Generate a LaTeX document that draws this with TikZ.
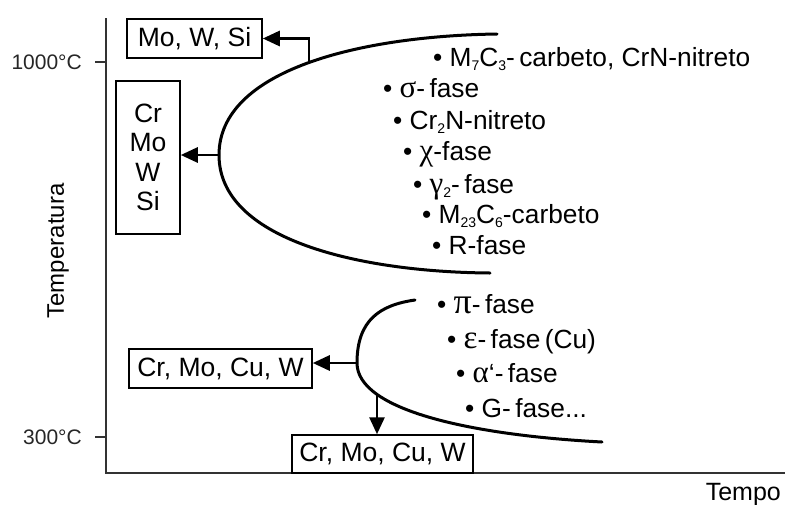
\documentclass[tikz,border=0pt]{standalone}
\usepackage{fontspec}
\setmainfont{Liberation Sans}
\newfontfamily\gr{Liberation Serif}
\usetikzlibrary{arrows.meta}
\newcommand{\sbs}[1]{\raisebox{-0.3ex}{\fontsize{14}{15}\selectfont #1}}
\newcommand{\gk}[1]{{\gr\fontsize{31}{32}\selectfont #1}}
\begin{document}
\begin{tikzpicture}[x=1pt,y=-1pt,
  axis/.style={line width=1.6pt,draw=black!80},
  curve/.style={line width=3pt,line cap=round},
  arr/.style={line width=2.8pt,-{Triangle[length=17pt,width=15pt]}},
  box/.style={draw,line width=1.5pt,inner sep=0pt,font=\fontsize{26.5}{30}\selectfont},
  item/.style={anchor=base west,inner sep=0pt,font=\fontsize{26.3}{28}\selectfont},
  tick/.style={anchor=east,inner sep=0pt,font=\fontsize{21}{24}\selectfont,text=black!85}]
\useasboundingbox (0,0) rectangle (785,504);
% axes
\coordinate (O) at (106,473);
\coordinate (Ytop) at (106,18);
\coordinate (Xend) at (785,473);
\draw[axis] (Ytop) -- (O) -- (Xend);
\coordinate (t1) at (106,62);
\coordinate (t1l) at (95,62);
\coordinate (t2) at (106,437);
\coordinate (t2l) at (95,437);
\draw[axis] (t1l) -- (t1);
\draw[axis] (t2l) -- (t2);
\node[tick] (l1000) at (82,62) {1000°C};
\node[tick] (l300) at (82,437) {300°C};
\node[rotate=90,inner sep=0pt,font=\fontsize{24}{28}\selectfont] (ylab) at (58,251) {Temperatura};
\node[anchor=base east,inner sep=0pt,font=\fontsize{25}{28}\selectfont] (xlab) at (781,500) {Tempo};
% upper curve
\draw[curve] (497,34) .. controls (360,36) and (219,70) .. (219,155)
  .. controls (219,240) and (360,272) .. (490,273);
% lower curve
\draw[curve] (415,300) .. controls (380,305) and (357,320) .. (357,363)
  .. controls (357,410) and (470,435) .. (602,442);
% boxes
\node[box,minimum width=135pt,minimum height=39pt] (b1) at (194.5,38.5) {Mo, W, Si};
\node[box,minimum width=64pt,minimum height=153pt,align=center] (b2) at (148,157.5)
  {Cr\\[-0.5pt]Mo\\[-0.5pt]W\\[-0.5pt]Si};
\node[box,minimum width=183pt,minimum height=39pt] (b3) at (220.5,368.5) {Cr, Mo, Cu, W};
\node[box,minimum width=181pt,minimum height=38pt] (b4) at (382.5,454) {Cr, Mo, Cu, W};
% arrows
\coordinate (c1) at (309,63);
\coordinate (c2) at (219,155);
\coordinate (c3) at (357,363);
\coordinate (c4) at (377,393);
\draw[arr] (c1) |- (b1.east);
\draw[arr] (c2) -- (c2 -| b2.east);
\draw[arr] (c3) -- (c3 -| b3.east);
\draw[arr] (c4) -- (c4 |- b4.north);
% upper list
\node[item] (u1) at (433,66) {• M\sbs{7}C\sbs{3}-\,carbeto, CrN-nitreto};
\node[item] (u2) at (383,97) {• \gk{σ}-\,fase};
\node[item] (u3) at (393,129) {• Cr\sbs{2}N-nitreto};
\node[item] (u4) at (403,160) {• \gk{χ}-fase};
\node[item] (u5) at (413,193) {• \gk{γ}\sbs{2}-\,fase};
\node[item] (u6) at (422,223) {• M\sbs{23}C\sbs{6}-carbeto};
\node[item] (u7) at (432,254) {• R-fase};
% lower list
\node[item] (d1) at (437,313) {• {\gr\fontsize{36}{38}\selectfont π}-\,fase};
\node[item] (d2) at (447,348) {• {\gr\fontsize{33}{34}\selectfont ε}-\,fase\,(Cu)};
\node[item] (d3) at (456,382) {• \gk{α}‘-\,fase};
\node[item] (d4) at (465,417) {• G-\,fase...};
\end{tikzpicture}
\end{document}
